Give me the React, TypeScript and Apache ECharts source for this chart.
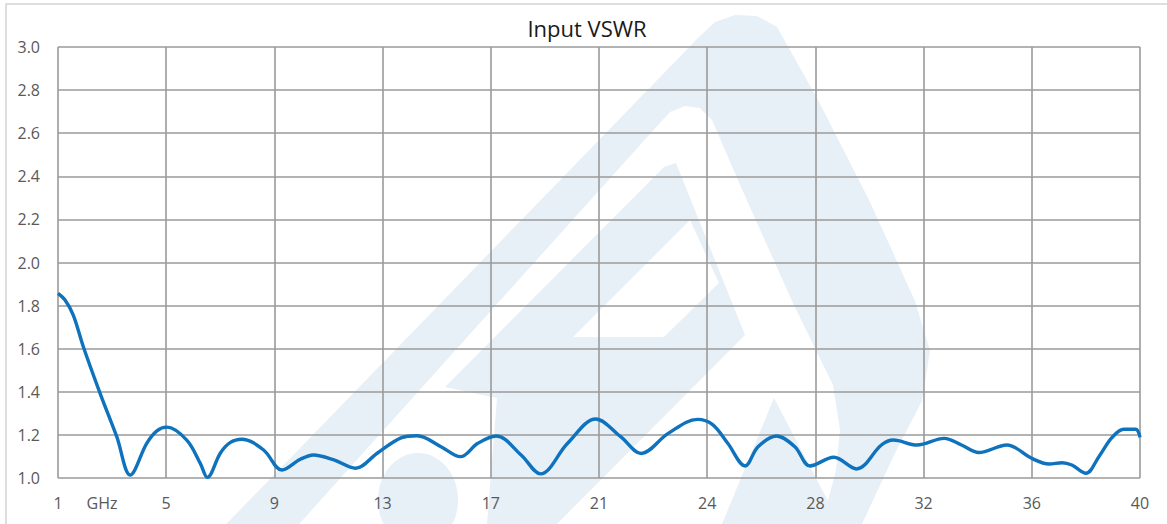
import React, { useEffect, useRef } from "react";
import * as echarts from "echarts";

// x positions are in axis-tick units (0 = first tick label "1", 10 = last tick label "40")
const tickLabels = ["1", "5", "9", "13", "17", "21", "24", "28", "32", "36", "40"];
const unitLabel = "GHz";
const titleText = "Input VSWR";

const xPos = [
  0, 0.065, 0.142, 0.234, 0.389, 0.543, 0.667, 0.82, 0.914, 1.006, 1.19, 1.315, 1.38, 1.5, 1.59,
  1.7, 1.9, 2.07, 2.24, 2.36, 2.55, 2.75, 2.95, 3.17, 3.32, 3.54, 3.72, 3.88, 4.05, 4.28, 4.46,
  4.71, 4.97, 5.2, 5.39, 5.64, 5.91, 6.05, 6.19, 6.35, 6.47, 6.64, 6.81, 6.95, 7.17, 7.38, 7.61,
  7.72, 7.94, 8.19, 8.35, 8.51, 8.77, 9.0, 9.16, 9.28, 9.37, 9.5, 9.62, 9.74, 9.85, 9.96, 10.0,
];
const vswr = [
  1.857, 1.826, 1.755, 1.609, 1.393, 1.192, 1.014, 1.161, 1.219, 1.236, 1.176, 1.068, 1.003, 1.115,
  1.164, 1.18, 1.13, 1.037, 1.087, 1.107, 1.084, 1.045, 1.115, 1.186, 1.196, 1.145, 1.099, 1.161,
  1.195, 1.107, 1.019, 1.161, 1.274, 1.192, 1.114, 1.207, 1.272, 1.248, 1.161, 1.056, 1.145, 1.195,
  1.145, 1.056, 1.096, 1.042, 1.153, 1.176, 1.153, 1.184, 1.153, 1.118, 1.153, 1.091, 1.065, 1.071,
  1.06, 1.022, 1.099, 1.187, 1.226, 1.226, 1.189,
];

const WM = "#e7eff7";

function watermark(): any[] {
  return [
    {
      type: "polygon",
      z: -20,
      shape: {
        points: [
          [170, 582], [700, 36], [715, 22], [735, 15], [757, 16], [777, 27], [818, 100],
          [869, 200], [915, 301], [930, 351], [922, 401], [896, 451], [862, 524], [850, 582],
        ],
      },
      style: { fill: WM },
      silent: true,
    },
    {
      type: "polygon",
      z: -19,
      shape: {
        points: [
          [247, 582], [658, 125], [670, 112], [685, 106], [700, 108], [712, 120], [741, 187],
          [792, 301], [833, 385], [840, 430], [836, 470], [822, 524], [805, 582],
        ],
      },
      style: { fill: "#ffffff" },
      silent: true,
    },
    {
      type: "polygon",
      z: -18,
      shape: {
        points: [
          [445, 387], [664, 167], [676, 163], [745, 335], [557, 524], [487, 524], [497, 398],
        ],
      },
      style: { fill: WM },
      silent: true,
    },
    {
      type: "polygon",
      z: -17,
      shape: { points: [[690, 220], [719, 283], [664, 337], [573, 337]] },
      style: { fill: "#ffffff" },
      silent: true,
    },
    {
      type: "ellipse",
      z: -17,
      shape: { cx: 418, cy: 500, rx: 40, ry: 47 },
      style: { fill: WM },
      silent: true,
    },
    {
      type: "polygon",
      z: -17,
      shape: { points: [[774, 398], [722, 524], [840, 524]] },
      style: { fill: WM },
      silent: true,
    },
  ];
}

export default function App() {
  const ref = useRef<HTMLDivElement>(null);
  useEffect(() => {
    if (!ref.current) return;
    const chart = echarts.init(ref.current, null, { renderer: "svg" });
    const data = xPos.map((x, i) => [x, vswr[i]]);
    chart.setOption({
      animation: false,
      backgroundColor: "#ffffff",
      title: {
        text: titleText,
        left: 582,
        textAlign: "center",
        top: 12,
        textStyle: { fontFamily: "Open Sans", fontSize: 22, fontWeight: "normal", color: "#1a1a1a" },
      },
      grid: { left: 58, top: 47, right: 27, bottom: 46, containLabel: false },
      xAxis: {
        type: "value",
        min: 0,
        max: 10,
        interval: 1,
        axisLine: { show: false },
        axisTick: { show: false },
        splitLine: { show: true, lineStyle: { color: "#9a9a9a", width: 1.6 } },
        axisLabel: {
          margin: 17,
          color: "#595959",
          fontFamily: "Open Sans",
          fontSize: 16,
          formatter: (v: number) => tickLabels[Math.round(v)] ?? "",
        },
      },
      yAxis: {
        type: "value",
        min: 1,
        max: 3,
        interval: 0.2,
        axisLine: { show: false },
        axisTick: { show: false },
        splitLine: { show: true, lineStyle: { color: "#9a9a9a", width: 1.6 } },
        axisLabel: {
          margin: 18,
          color: "#595959",
          fontFamily: "Open Sans",
          fontSize: 16,
          formatter: (v: number) => v.toFixed(1),
        },
      },
      graphic: [
        ...watermark(),
        {
          type: "rect",
          z: -30,
          shape: { x: 6, y: 4, width: 1200, height: 560 },
          style: { fill: "none", stroke: "#d4d4d4", lineWidth: 1.5 },
          silent: true,
        },
        {
          type: "text",
          x: 102,
          y: 503,
          style: {
            text: unitLabel,
            fill: "#595959",
            font: "16px 'Open Sans'",
            textAlign: "center",
            textVerticalAlign: "middle",
          },
          silent: true,
        },
      ],
      series: [
        {
          type: "line",
          data,
          smooth: 0.35,
          symbol: "none",
          lineStyle: { color: "#0e72bd", width: 3.4 },
          z: 5,
        },
      ],
    });
    return () => chart.dispose();
  }, []);
  return (
    <div
      ref={ref}
      style={{ position: "absolute", left: 0, top: 0, width: 1167, height: 524 }}
    />
  );
}
